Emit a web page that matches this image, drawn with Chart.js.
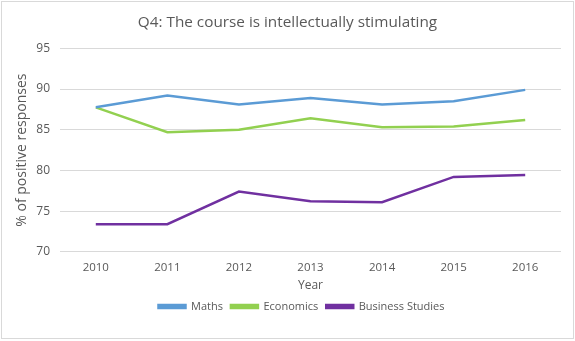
<!DOCTYPE html>
<html>
<head>
<meta charset="utf-8">
<script src="https://cdn.jsdelivr.net/npm/chart.js@4"></script>
<style>
  body { margin: 0; background: #fff; }
  #wrap { position: absolute; left: 1px; top: 1px; width: 573px; height: 338px;
          border: 1px solid #d9d9d9; box-sizing: border-box; }
</style>
</head>
<body>
<div id="wrap"><canvas id="chart"></canvas></div>
<script>
var years = ["2010", "2011", "2012", "2013", "2014", "2015", "2016"];
var maths = [87.75, 89.2, 88.1, 88.9, 88.1, 88.5, 89.9];
var economics = [87.75, 84.7, 85.0, 86.4, 85.3, 85.4, 86.2];
var business = [73.4, 73.4, 77.4, 76.2, 76.1, 79.2, 79.45];

var textColor = "#595959";
var fontFamily = "'Open Sans', sans-serif";

function series(label, data, color) {
  return {
    label: label,
    data: data,
    borderColor: color,
    backgroundColor: color,
    borderWidth: 2.5,
    pointRadius: 0,
    tension: 0,
  };
}

const ctx = document.getElementById("chart");

new Chart(ctx, {
  type: "line",
  data: {
    labels: years,
    datasets: [
      series("Maths", maths, "#5b9bd5"),
      series("Economics", economics, "#92d050"),
      series("Business Studies", business, "#7030a0"),
    ],
  },
  options: {
    responsive: true,
    maintainAspectRatio: false,
    animation: false,
    events: [],
    layout: { padding: { left: 12, right: 12, top: 9, bottom: 16 } },
    plugins: {
      title: {
        display: true,
        text: "Q4: The course is intellectually stimulating",
        color: textColor,
        font: { family: fontFamily, size: 15.3, weight: "normal" },
        padding: { top: 2, bottom: 17 },
      },
      legend: {
        position: "bottom",
        labels: {
          color: textColor,
          boxWidth: 27,
          boxHeight: 3,
          padding: 8,
          font: { family: fontFamily, size: 11 },
        },
      },
      tooltip: { enabled: false },
    },
    scales: {
      x: {
        offset: true,
        grid: { display: false },
        border: { display: false },
        ticks: { color: textColor, font: { family: fontFamily, size: 11.5 }, padding: 1 },
        title: {
          display: true,
          text: "Year",
          color: textColor,
          font: { family: fontFamily, size: 12 },
          padding: { top: 3, bottom: 0 },
        },
      },
      y: {
        min: 70,
        max: 95,
        afterFit: function (scale) {
          scale.width = 46;
        },
        ticks: {
          stepSize: 5,
          color: textColor,
          font: { family: fontFamily, size: 12 },
          padding: 10,
        },
        grid: { color: "#d9d9d9", drawTicks: false },
        border: { display: false },
        title: {
          display: true,
          text: "% of positive responses",
          color: textColor,
          font: { family: fontFamily, size: 14 },
          padding: { top: 0, bottom: 0 },
        },
      },
    },
  },
  plugins: [
    {
      // legend sits a bit right of centre in the original
      id: "legendShift",
      afterLayout: (chart) => {
        chart.legend.left += 14;
        chart.legend.right += 14;
      },
    },
  ],
});
</script>
</body>
</html>
